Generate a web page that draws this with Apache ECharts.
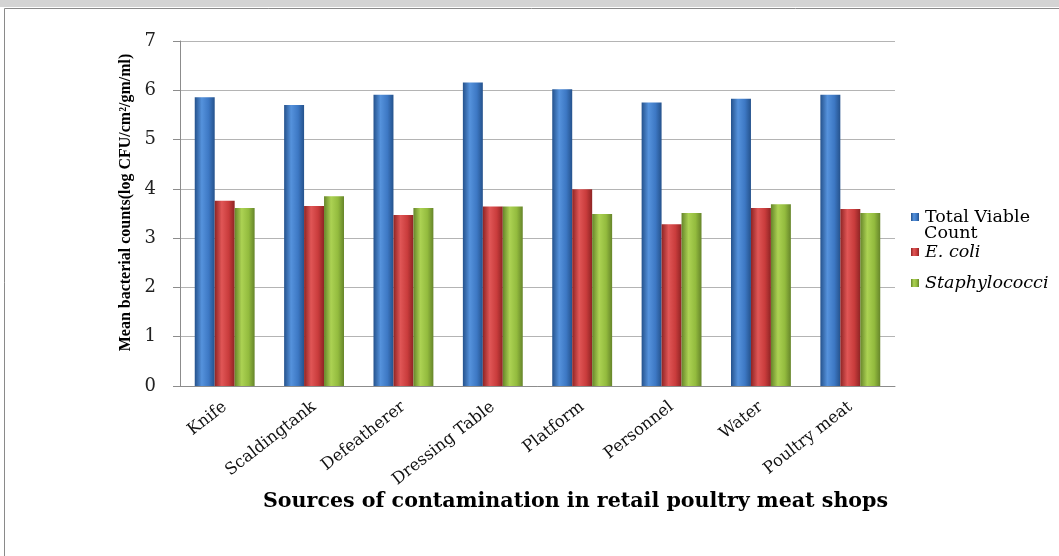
<!DOCTYPE html>
<html>
<head>
<meta charset="utf-8">
<script src="https://cdn.jsdelivr.net/npm/echarts@6/dist/echarts.min.js"></script>
<style>
  html, body { margin: 0; padding: 0; background: #fff; }
  #main { width: 1059px; height: 556px; }
</style>
</head>
<body>
<div id="main"></div>
<script>
// data
var categories = ['Knife', 'Scaldingtank', 'Defeatherer', 'Dressing Table', 'Platform', 'Personnel', 'Water', 'Poultry meat'];
var tvc = [5.86, 5.70, 5.91, 6.16, 6.02, 5.75, 5.83, 5.91];
var ecoli = [3.76, 3.65, 3.47, 3.64, 3.99, 3.28, 3.61, 3.59];
var staph = [3.61, 3.85, 3.61, 3.64, 3.49, 3.51, 3.69, 3.51];
var yTicks = [0, 1, 2, 3, 4, 5, 6, 7];

var serif = '"Liberation Serif", "Times New Roman", serif';
var wide = '"DejaVu Serif", serif';

// cylinder-ish shading, dark at edges
function shade(edge, mid, light) {
  return new echarts.graphic.LinearGradient(0, 0, 1, 0, [
    { offset: 0, color: edge },
    { offset: 0.35, color: light },
    { offset: 0.7, color: mid },
    { offset: 1, color: edge }
  ]);
}

var legendText = { fontFamily: wide, fontSize: 17.5, color: '#000', padding: [0, 0, 0, 1] };

var myChart = echarts.init(document.getElementById('main'));

var option = {
  animation: false,
  grid: { left: 180, right: 164, top: 41, bottom: 170 },
  graphic: [
    // grey strip and page frame
    { type: 'rect', shape: { x: 0, y: 0, width: 1059, height: 7 }, style: { fill: '#d4d4d4' }, silent: true },
    { type: 'polyline', shape: { points: [[4.5, 556], [4.5, 8.5], [1059, 8.5]] }, style: { stroke: '#8a8a8a', lineWidth: 1, fill: null }, silent: true },
    {
      type: 'text', left: 263, top: 491,
      style: { text: 'Sources of contamination in retail poultry meat shops', font: 'bold 20.6px "DejaVu Serif", serif', fill: '#000' }
    },
    // second line of the first legend entry
    {
      type: 'text', left: 924, top: 224,
      style: { text: 'Count', font: '17.5px "DejaVu Serif", serif', fill: '#000' }
    }
  ],
  legend: [
    {
      left: 906, top: 203, icon: 'rect', itemWidth: 8, itemHeight: 8,
      data: [{ name: 'Total Viable Count' }],
      formatter: function () { return 'Total Viable'; },
      textStyle: legendText
    },
    {
      left: 906, top: 238, icon: 'rect', itemWidth: 8, itemHeight: 8,
      data: [{ name: 'E. coli' }],
      textStyle: Object.assign({}, legendText, { fontStyle: 'italic' })
    },
    {
      left: 906, top: 269, icon: 'rect', itemWidth: 8, itemHeight: 8,
      data: [{ name: 'Staphylococci' }],
      textStyle: Object.assign({}, legendText, { fontStyle: 'italic' })
    }
  ],
  xAxis: {
    type: 'category',
    data: categories,
    axisLine: { lineStyle: { color: '#8c8c8c' } },
    axisTick: { show: false },
    axisLabel: { rotate: 38, fontFamily: wide, fontSize: 16.5, color: '#111', margin: 19, interval: 0 }
  },
  yAxis: {
    type: 'value',
    min: yTicks[0],
    max: yTicks[yTicks.length - 1],
    interval: 1,
    name: 'Mean bacterial counts(log CFU/cm\u00B2/gm/ml)',
    nameLocation: 'middle',
    nameGap: 42,
    nameTextStyle: { fontFamily: serif, fontWeight: 'bold', fontSize: 16, color: '#000', padding: [0, 0, 0, 22] },
    axisLine: { show: true, lineStyle: { color: '#8c8c8c' } },
    axisTick: { show: true, length: 7, lineStyle: { color: '#8c8c8c' } },
    axisLabel: { fontFamily: wide, fontSize: 18, color: '#222', margin: 24 },
    splitLine: { lineStyle: { color: '#b4b4b4', width: 1.2 } }
  },
  series: [
    {
      name: 'Total Viable Count', type: 'bar', data: tvc,
      barGap: '0%', barCategoryGap: '33%',
      itemStyle: { color: shade('#25528c', '#3d78c4', '#5592dc') }
    },
    {
      name: 'E. coli', type: 'bar', data: ecoli,
      itemStyle: { color: shade('#8e2424', '#c93c3c', '#e05656') }
    },
    {
      name: 'Staphylococci', type: 'bar', data: staph,
      itemStyle: { color: shade('#66852a', '#93bb3e', '#acd253') }
    }
  ]
};

myChart.setOption(option);
</script>
</body>
</html>
